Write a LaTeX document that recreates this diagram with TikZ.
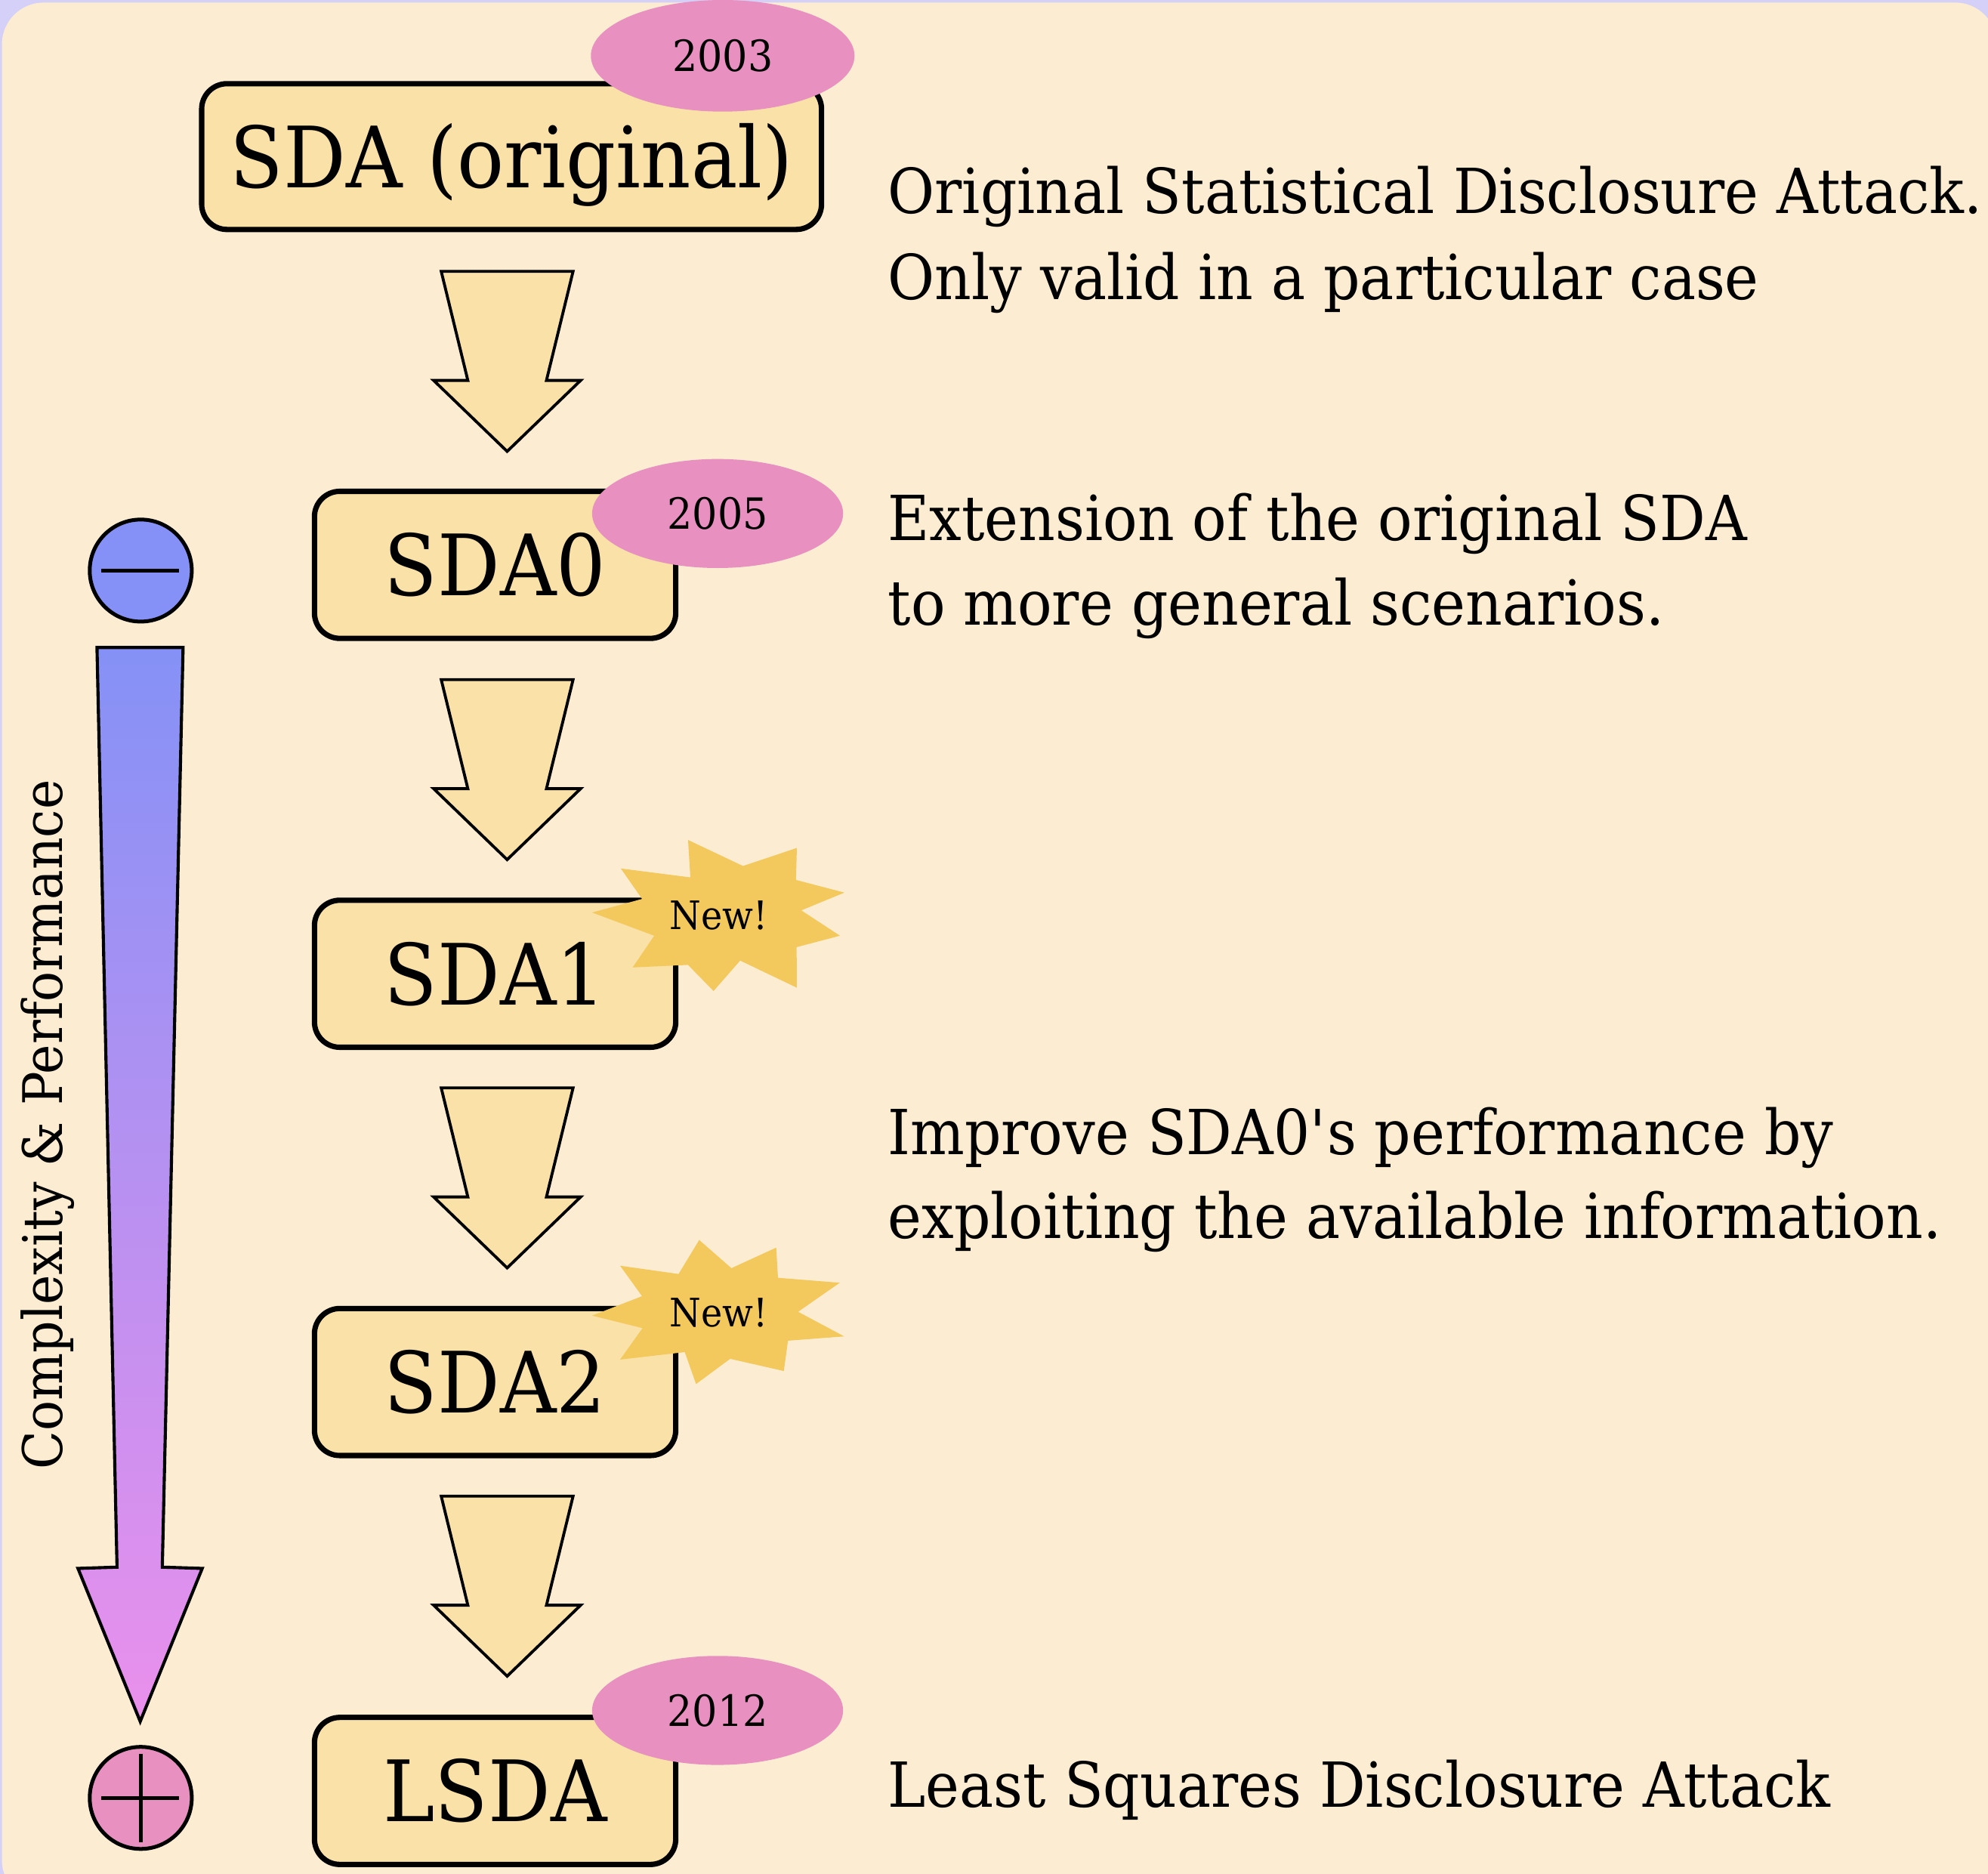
\documentclass[tikz,border=0pt]{standalone}
\usepackage{fontspec}
\setmainfont{DejaVu Serif}[FakeStretch=0.92]
\usetikzlibrary{shapes.geometric}
\definecolor{bgpurple}{HTML}{D4D0F8}
\definecolor{panelcol}{HTML}{FCEDD2}
\definecolor{boxfill}{HTML}{F9E1A8}
\definecolor{pinkfill}{HTML}{E891C1}
\definecolor{starfill}{HTML}{F3C85C}
\definecolor{bluefill}{HTML}{8591F6}
\definecolor{gradbot}{HTML}{EA90EC}
\tikzset{
  box/.style={draw=black, line width=2.4pt, fill=boxfill, rounded corners=0.4cm,
    inner sep=0pt, text height=27.7pt, text depth=0pt,
    font=\fontsize{38}{42}\selectfont},
  year/.style={ellipse, fill=pinkfill, inner sep=0pt, text height=14.1pt, text depth=0pt,
    font=\fontsize{19.3}{22}\selectfont},
  newtxt/.style={inner sep=0pt, text height=12.8pt, text depth=0pt,
    font=\fontsize{17.6}{20}\selectfont},
  desc/.style={anchor=base west, inner sep=0pt, font=\fontsize{27.9}{37}\selectfont},
  blockarrow/.style={draw=black, fill=boxfill, line width=1.3pt, line join=miter},
  sign/.style={circle, draw=black, line width=1.7pt, inner sep=0pt, minimum size=1.61cm},
  signbar/.style={line width=1.7pt},
}
\begin{document}
\begin{tikzpicture}[x=0.02cm, y=-0.02cm]
\useasboundingbox (0,0) rectangle (1568,1478);
% background
\fill[bgpurple] (0,0) rectangle (1568,1478);
\fill[panelcol, rounded corners=0.66cm] (1.5,2) rectangle (1575,1500);

% boxes
\node[box, minimum width=9.78cm, minimum height=2.3cm] (b0) at (403.5,123.5) {SDA (original)};
\node[box, minimum width=5.7cm, minimum height=2.32cm] (b1) at (390.5,445.5) {SDA0};
\node[box, minimum width=5.7cm, minimum height=2.32cm] (b2) at (390.5,768) {SDA1};
\node[box, minimum width=5.7cm, minimum height=2.32cm] (b3) at (390.5,1090) {SDA2};
\node[box, minimum width=5.7cm, minimum height=2.32cm] (b4) at (390.5,1412.5) {LSDA};

% block arrows between boxes
\foreach \T in {214,536,858,1180} {
  \draw[blockarrow] (348,\T) -- (452,\T) -- (431,\T+86) -- (458,\T+86) -- (400,\T+142)
    -- (342,\T+86) -- (369,\T+86) -- cycle;
}

% year ellipses
\node[year, minimum width=4.16cm, minimum height=1.76cm] (y0) at (570,44) {2003};
\node[year, minimum width=3.96cm, minimum height=1.72cm] (y1) at (566,405) {2005};
\node[year, minimum width=3.96cm, minimum height=1.72cm] (y4) at (566,1349) {2012};

% starbursts
\fill[starfill, shift={(567,722)}] (-24.3,-59.5) -- (19,-39) -- (61.5,-53.2) -- (60.8,-28)
  -- (99,-18) -- (65,-4) -- (95.5,16) -- (61.3,25) -- (61.5,57) -- (16.8,35.6)
  -- (-4.2,59.6) -- (-24.4,39) -- (-68,41) -- (-51,16) -- (-100,-2.3) -- (-60.6,-13)
  -- (-77.3,-37) -- (-22.5,-30) -- cycle;
\node[newtxt] (n2) at (567,722) {New!};
\fill[starfill, shift={(567,1035)}] (-15.5,-57) -- (9.9,-34.8) -- (45.2,-51) -- (46.6,-27.2)
  -- (95.3,-23.3) -- (62.5,-0.4) -- (98.8,19) -- (54.5,22.4) -- (51.2,46.3) -- (8.9,36.7)
  -- (-18,56.6) -- (-26.9,31.4) -- (-77.9,37.3) -- (-60.2,12.5) -- (-100,2.6)
  -- (-60.6,-12.7) -- (-77.9,-36.7) -- (-31.8,-30.2) -- cycle;
\node[newtxt] (n3) at (567,1035) {New!};

% descriptions
\node[desc] (d1a) at (700,168.5) {Original Statistical Disclosure Attack.};
\node[desc] (d1b) at (700,236) {Only valid in a particular case};
\node[desc] (d2a) at (700,426.5) {Extension of the original SDA};
\node[desc] (d2b) at (700,493) {to more general scenarios.};
\node[desc] (d3a) at (700,910.5) {Improve SDA0\textquotesingle s performance by};
\node[desc] (d3b) at (700,977) {exploiting the available information.};
\node[desc] (d4) at (700,1425.5) {Least Squares Disclosure Attack};

% complexity scale
\node[sign, fill=bluefill] (minus) at (111,450) {};
\draw[signbar] (80,450) -- (141,450);
\shadedraw[top color=bluefill, bottom color=gradbot, draw=black, line width=1.4pt, line join=miter]
  (76.5,510.7) -- (144.4,510.7) -- (128,1236) -- (159.5,1237) -- (110.6,1357.7)
  -- (61.5,1237) -- (92.3,1236) -- cycle;
\node[sign, fill=pinkfill] (plus) at (111,1418) {};
\draw[signbar] (80,1418) -- (141,1418);
\draw[signbar] (111,1383) -- (111,1453);
\node[rotate=90, anchor=base, inner sep=0pt, font=\fontsize{24.5}{30}\selectfont] (cp)
  at (49,887) {Complexity \& Performance};
\end{tikzpicture}
\end{document}
